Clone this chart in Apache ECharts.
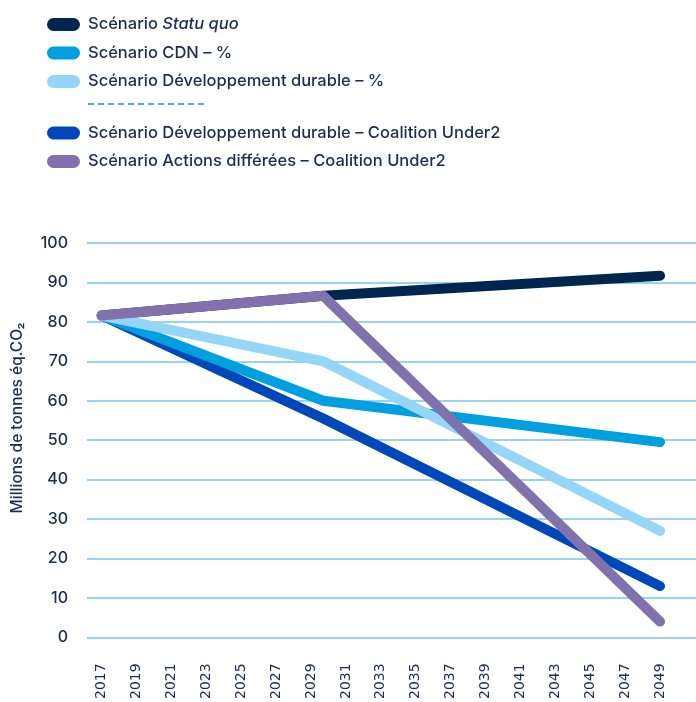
<!DOCTYPE html>
<html>
<head>
<meta charset="utf-8">
<script src="https://cdn.jsdelivr.net/npm/echarts@6/dist/echarts.min.js"></script>
<style>
html,body{margin:0;padding:0;background:#fff;}
#chart{width:696px;height:702px;}
</style>
</head>
<body>
<div id="chart"></div>
<script>
// Data
const years = [2017, 2029.7, 2049];
const tickYears = [2017, 2019, 2021, 2023, 2025, 2027, 2029, 2031, 2033, 2035, 2037, 2039, 2041, 2043, 2045, 2047, 2049];
const statuQuo = [81.6, 86.6, 91.7];
const cdn = [81.6, 60.0, 49.5];
const devDurable = [81.6, 70.0, 27.0];
const devDurableU2 = [81.6, 55.5, 13.0];
const actionsDifferees = [81.6, 86.6, 4.0];

const names = {
  sq: 'Scénario Statu quo',
  cdn: 'Scénario CDN – %',
  dd: 'Scénario Développement durable – %',
  ddu2: 'Scénario Développement durable – Coalition Under2',
  ad: 'Scénario Actions différées – Coalition Under2'
};
const colors = {
  sq: '#00264f', cdn: '#00a0e0', dd: '#95d5f5', ddu2: '#0047ba', ad: '#8172ae'
};

const txt = '#1b2d50';
const pill = 'path://M6.5,0 H26.5 A6.5,6.5 0 0 1 26.5,13 H6.5 A6.5,6.5 0 0 1 6.5,0 Z';

function pairs(vals){ return years.map((y,i)=>[y, vals[i]]); }
function lineSeries(key, vals){
  return {
    name: names[key], type: 'line', data: pairs(vals), symbol: 'none',
    lineStyle: {width: 10, color: colors[key], cap: 'round', join: 'round'},
    itemStyle: {color: colors[key]}, emphasis: {disabled: true}
  };
}

const legendText = {
  color: txt, fontSize: 16.5, fontFamily: 'Inter', fontWeight: 500, padding: [0,0,0,3],
  rich: {
    n: {color: txt, fontSize: 16.5, fontFamily: 'Inter', fontWeight: 500, lineHeight: 13},
    i: {color: txt, fontSize: 16.5, fontFamily: 'Inter', fontWeight: 500, fontStyle: 'italic', lineHeight: 13}
  }
};
function legendFmt(name){
  if (name === names.sq) return '{n|Scénario }{i|Statu quo}';
  return '{n|' + name + '}';
}

const chart = echarts.init(document.getElementById('chart'), null, {renderer: 'canvas'});
chart.setOption({
  animation: false,
  backgroundColor: '#fff',
  grid: {left: 87, right: 0, top: 243, bottom: 59, containLabel: false},
  legend: [
    {data: [names.sq, names.cdn, names.dd], orient: 'vertical', left: 42, top: 11,
     itemWidth: 33, itemHeight: 13, itemGap: 11.5, icon: pill, textStyle: legendText, formatter: legendFmt,
     selectedMode: false},
    {data: [names.ddu2, names.ad], orient: 'vertical', left: 42, top: 119.5,
     itemWidth: 33, itemHeight: 13, itemGap: 11.5, icon: pill, textStyle: legendText, formatter: legendFmt,
     selectedMode: false}
  ],
  graphic: [
    {type: 'line', shape: {x1: 88, y1: 104, x2: 208, y2: 104},
     style: {stroke: '#1a8fd0', lineWidth: 1.4, lineDash: [6, 4]}},
    {type: 'text', x: 17.5, y: 418, rotation: Math.PI / 2,
     style: {text: 'Millions de tonnes éq.CO₂', fill: txt, fontSize: 15.5, fontFamily: 'Inter',
             fontWeight: 500, align: 'center', verticalAlign: 'middle'}}
  ],
  xAxis: {
    type: 'value', min: 2016.16, max: 2051.06,
    axisLine: {show: false}, axisTick: {show: false}, splitLine: {show: false},
    axisLabel: {customValues: tickYears, rotate: 90, margin: 26, fontSize: 14,
                fontFamily: 'DejaVu Sans', color: txt,
                formatter: v => String(Math.round(v))}
  },
  yAxis: {
    type: 'value', min: 0, max: 100, interval: 10,
    axisLine: {show: false}, axisTick: {show: false},
    splitLine: {lineStyle: {color: '#74c6ea', width: 1.5}},
    axisLabel: {margin: 19, fontSize: 16, fontFamily: 'Inter', fontWeight: 500, color: txt}
  },
  series: [
    lineSeries('sq', statuQuo),
    lineSeries('ddu2', devDurableU2),
    lineSeries('cdn', cdn),
    lineSeries('dd', devDurable),
    lineSeries('ad', actionsDifferees)
  ]
});
</script>
</body>
</html>
